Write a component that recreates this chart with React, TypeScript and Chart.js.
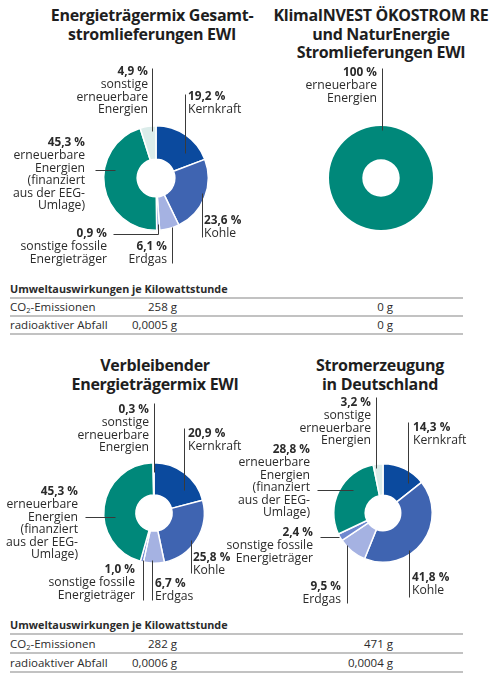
import React, { useEffect, useRef } from "react";
import { Chart, registerables } from "chart.js";
Chart.register(...registerables);

// ---------- data ----------
const categoryLines: string[][] = [
  ["Kernkraft"],
  ["Kohle"],
  ["Erdgas"],
  ["sonstige fossile", "Energieträger"],
  ["erneuerbare", "Energien", "(finanziert", "aus der EEG-", "Umlage)"],
  ["sonstige", "erneuerbare", "Energien"],
];
const segmentColors = ["#0b4a9e", "#3f64b1", "#a5b2e2", "#6e88cf", "#00887a", "#dbecea"];

const gesamtValues = [19.2, 23.6, 6.1, 0.9, 45.3, 4.9];
const oekoCategoryLines: string[][] = [["erneuerbare", "Energien"]];
const oekoValues = [100];
const oekoColors = ["#00887a"];
const restValues = [20.9, 25.8, 6.7, 1.0, 45.3, 0.3];
const deValues = [14.3, 41.8, 9.5, 2.4, 28.8, 3.2];

const impactLabels = ["CO2-Emissionen", "radioaktiver Abfall"];
const gesamtImpact = ["258 g", "0,0005 g"];
const oekoImpact = ["0 g", "0 g"];
const restImpact = ["282 g", "0,0006 g"];
const deImpact = ["471 g", "0,0004 g"];

const titles = [
  ["Energieträgermix Gesamt-", "stromlieferungen EWI"],
  ["KlimaINVEST ÖKOSTROM RE", "und NaturEnergie", "Stromlieferungen EWI"],
  ["Verbleibender", "Energieträgermix EWI"],
  ["Stromerzeugung", "in Deutschland"],
];
const tableHeader = "Umweltauswirkungen je Kilowattstunde";

// ---------- layout (annotation placement relative to donut centre) ----------
type Spec = { dx: number; dy: number; align: CanvasTextAlign; leader: number[][] };
const gesamtSpecs: Spec[] = [
  { dx: 32, dy: -81, align: "left", leader: [[29, -84], [29, -25]] },
  { dx: 48, dy: 43, align: "left", leader: [[46, 15], [46, 59]] },
  { dx: 11, dy: 69, align: "right", leader: [[16, 49], [16, 85]] },
  { dx: -49, dy: 56, align: "right", leader: [[-43, 56], [2, 56], [2, 46]] },
  { dx: -71, dy: -35, align: "right", leader: [[-61, -8], [-41, -8]] },
  { dx: -8, dy: -106, align: "right", leader: [[-4, -110], [-4, -47]] },
];
const oekoSpecs: Spec[] = [{ dx: -4, dy: -105, align: "right", leader: [[1, -110], [1, -48]] }];
const restSpecs: Spec[] = [
  { dx: 34, dy: -79, align: "left", leader: [[30, -85], [30, -23]] },
  { dx: 39, dy: 45, align: "left", leader: [[37, 27], [37, 60]] },
  { dx: 1, dy: 71, align: "left", leader: [[-2, 47], [-2, 87]] },
  { dx: -19, dy: 57, align: "right", leader: [[-11, 47], [-11, 87]] },
  { dx: -76, dy: -21, align: "right", leader: [[-69, 4], [-39, 4]] },
  { dx: -5, dy: -103, align: "right", leader: [[0, -110], [0, -41]] },
];
const deSpecs: Spec[] = [
  { dx: 30, dy: -85, align: "left", leader: [[25, -91], [25, -30]] },
  { dx: 29, dy: 65, align: "left", leader: [[26, 37], [26, 84]] },
  { dx: -42, dy: 74, align: "right", leader: [[-36, 32], [-36, 90]] },
  { dx: -70, dy: 20, align: "right", leader: [[-63, 24], [-44, 24]] },
  { dx: -73, dy: -63, align: "right", leader: [[-66, -23], [-30, -23]] },
  { dx: -12, dy: -110, align: "right", leader: [[-7, -116], [-7, -45]] },
];

const FONT = "'Open Sans', 'Noto Sans', sans-serif";
const TEXT = "#2b2b2b";
const LH = 12.6;

const fmt = (v: number) => (v >= 100 ? String(v) : v.toFixed(1).replace(".", ",")) + " %";

const labelPlugin = {
  id: "donutLabels",
  afterDraw(chart: any, _a: any, opts: any) {
    const ctx = chart.ctx as CanvasRenderingContext2D;
    const arc = chart.getDatasetMeta(0).data[0];
    const cx = arc.x;
    const cy = arc.y;
    const values: number[] = chart.data.datasets[0].data;
    ctx.save();
    opts.specs.forEach((s: Spec, i: number) => {
      ctx.strokeStyle = "#3a3a3a";
      ctx.lineWidth = 1;
      ctx.beginPath();
      s.leader.forEach(([x, y], k) => {
        const px = Math.round(cx + x) + 0.5;
        const py = Math.round(cy + y) + 0.5;
        if (k === 0) ctx.moveTo(px, py);
        else ctx.lineTo(px, py);
      });
      ctx.stroke();
      const lines = [fmt(values[i]), ...opts.lines[i]];
      ctx.textAlign = s.align;
      ctx.textBaseline = "middle";
      ctx.fillStyle = TEXT;
      lines.forEach((t: string, k: number) => {
        ctx.font = (k === 0 ? "bold 11.8px " : "12.2px ") + FONT;
        ctx.fillText(t, cx + s.dx, cy + s.dy + k * LH);
      });
    });
    ctx.restore();
  },
};

type DonutProps = {
  left: number; top: number; width: number; height: number;
  cx: number; cy: number; r: number;
  values: number[]; colors: string[]; lines: string[][]; specs: Spec[]; border: number;
};

function Donut(p: DonutProps) {
  const ref = useRef<HTMLCanvasElement>(null);
  useEffect(() => {
    const lx = p.cx - p.left;
    const ly = p.cy - p.top;
    const chart = new Chart(ref.current!, {
      type: "doughnut",
      data: {
        labels: p.lines.map((l) => l.join(" ")),
        datasets: [{ data: p.values, backgroundColor: p.colors, borderColor: "#ffffff", borderWidth: p.border }],
      },
      options: {
        responsive: false,
        animation: false,
        cutout: "36%",
        layout: {
          padding: { left: lx - p.r, top: ly - p.r, right: p.width - lx - p.r, bottom: p.height - ly - p.r },
        },
        plugins: {
          legend: { display: false },
          tooltip: { enabled: false },
          donutLabels: { specs: p.specs, lines: p.lines },
        } as any,
      },
      plugins: [labelPlugin],
    });
    return () => chart.destroy();
  }, []);
  return (
    <canvas
      ref={ref}
      width={p.width}
      height={p.height}
      style={{ position: "absolute", left: p.left, top: p.top, width: p.width, height: p.height }}
    />
  );
}

function Title({ lines, cx, top }: { lines: string[]; cx: number; top: number }) {
  return (
    <div
      style={{
        position: "absolute", left: cx - 130, top, width: 260, textAlign: "center",
        fontFamily: FONT, fontWeight: 700, fontSize: 16, lineHeight: "18.5px", color: "#1e1e1e",
        letterSpacing: -0.3,
      }}
    >
      {lines.map((l, i) => (<div key={i}>{l}</div>))}
    </div>
  );
}

function Impact({ top, a, b, rowH }: { top: number; a: string[]; b: string[]; rowH: number }) {
  const rule = (y: number) => (
    <div style={{ position: "absolute", left: 10, width: 453, top: y, height: 2, background: "#c2c2c2" }} />
  );
  const txt: React.CSSProperties = { position: "absolute", fontFamily: FONT, fontSize: 11.5, color: TEXT, lineHeight: "14px" };
  return (
    <>
      <div style={{ ...txt, left: 10, top: top - 7, fontWeight: 700, fontSize: 10.8 }}>{tableHeader}</div>
      {rule(top + 8)}
      {impactLabels.map((lab, i) => {
        const y = top + 8 + rowH / 2 + 1 + i * rowH;
        return (
          <React.Fragment key={i}>
            <div style={{ ...txt, left: 10, top: y - 7 }}>
              {lab.startsWith("CO2") ? (<>CO<sub style={{ fontSize: 7.5, verticalAlign: -2 }}>2</sub>-Emissionen</>) : lab}
            </div>
            <div style={{ ...txt, left: 77, width: 100, textAlign: "right", top: y - 7 }}>{a[i]}</div>
            <div style={{ ...txt, left: 293, width: 100, textAlign: "right", top: y - 7 }}>{b[i]}</div>
            {rule(top + 8 + (i + 1) * rowH)}
          </React.Fragment>
        );
      })}
    </>
  );
}

export default function App() {
  return (
    <div style={{ position: "absolute", left: 0, top: 0, width: 493, height: 673, overflow: "hidden", background: "#fff" }}>
      <Title lines={titles[0]} cx={152} top={6} />
      <Title lines={titles[1]} cx={381} top={6} />
      <Title lines={titles[2]} cx={155} top={356} />
      <Title lines={titles[3]} cx={380} top={356} />
      <Donut left={0} top={55} width={246} height={215} cx={156} cy={178} r={53}
        values={gesamtValues} colors={segmentColors} lines={categoryLines} specs={gesamtSpecs} border={1.5} />
      <Donut left={200} top={55} width={293} height={215} cx={381} cy={178} r={52}
        values={oekoValues} colors={oekoColors} lines={oekoCategoryLines} specs={oekoSpecs} border={0} />
      <Donut left={0} top={392} width={250} height={216} cx={154} cy={513} r={51}
        values={restValues} colors={segmentColors} lines={categoryLines} specs={restSpecs} border={1.5} />
      <Donut left={200} top={392} width={293} height={216} cx={383} cy={513} r={50}
        values={deValues} colors={segmentColors} lines={categoryLines} specs={deSpecs} border={1.5} />
      <Impact top={289} a={gesamtImpact} b={oekoImpact} rowH={18} />
      <Impact top={625} a={restImpact} b={deImpact} rowH={19} />
    </div>
  );
}
